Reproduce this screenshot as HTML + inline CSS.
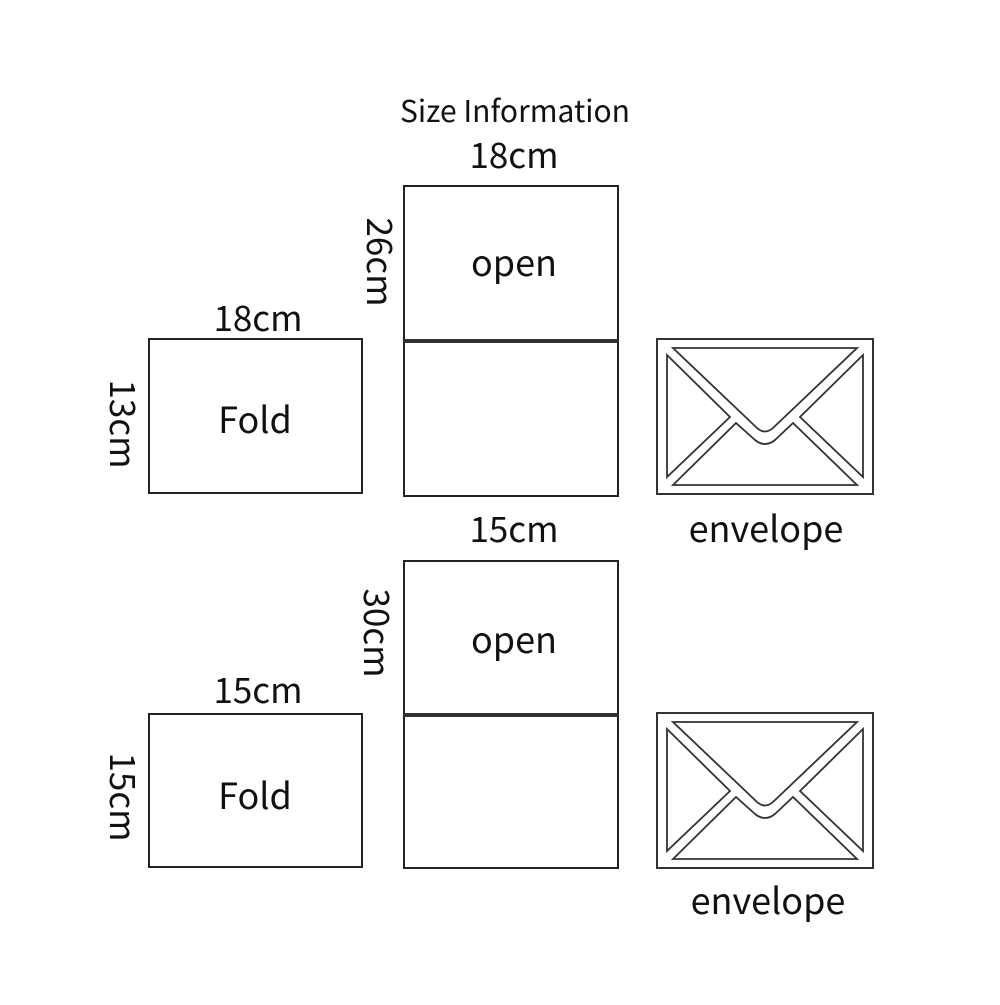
<!DOCTYPE html>
<html><head><style>html,body{margin:0;padding:0;background:#fff}</style></head>
<body>
<svg width="1000" height="1000" xmlns="http://www.w3.org/2000/svg" font-family="'Noto Sans CJK SC', 'Liberation Sans', sans-serif" fill="#111">
<g fill="none" stroke="#222" stroke-width="2">
<rect x="149" y="339" width="213" height="154"/>
<rect x="404" y="186" width="214" height="310"/>
<rect x="149" y="714" width="213" height="153"/>
<rect x="404" y="561" width="214" height="307"/>
</g>
<line x1="404" y1="341" x2="618" y2="341" stroke="#333" stroke-width="4"/>
<line x1="404" y1="715" x2="618" y2="715" stroke="#333" stroke-width="4"/>
<defs>
<g id="env" fill="none" stroke="#333" stroke-width="1.8">
<rect x="657" y="339" width="216" height="155" stroke-width="2"/>
<path d="M673,348 L857,348 L773,428 Q765,435 757,428 Z"/>
<path d="M667,355 L730,417 L667,477 Z"/>
<path d="M863,355 L800,417 L863,477 Z"/>
<path d="M673,485 L736,423 L755,440 Q765,448 775,440 L793,423 L857,485 Z"/>
</g>
</defs>
<use href="#env"/>
<use href="#env" transform="translate(0,374)"/>
<g text-anchor="middle">
<text x="515" y="122" font-size="30">Size Information</text>
<text x="514" y="168" font-size="35">18cm</text>
<text x="514" y="276" font-size="36">open</text>
<text x="258" y="331" font-size="35">18cm</text>
<text x="255" y="433" font-size="36">Fold</text>
<text x="766" y="542" font-size="36">envelope</text>
<text x="514" y="542" font-size="35">15cm</text>
<text x="514" y="653" font-size="36">open</text>
<text x="258" y="703" font-size="35">15cm</text>
<text x="255" y="809" font-size="36">Fold</text>
<text x="768" y="914" font-size="36">envelope</text>
<text transform="translate(367,262) rotate(90)" font-size="35">26cm</text>
<text transform="translate(110,424) rotate(90)" font-size="35">13cm</text>
<text transform="translate(364,633) rotate(90)" font-size="35">30cm</text>
<text transform="translate(110,797) rotate(90)" font-size="35">15cm</text>
</g>
</svg>
</body></html>
